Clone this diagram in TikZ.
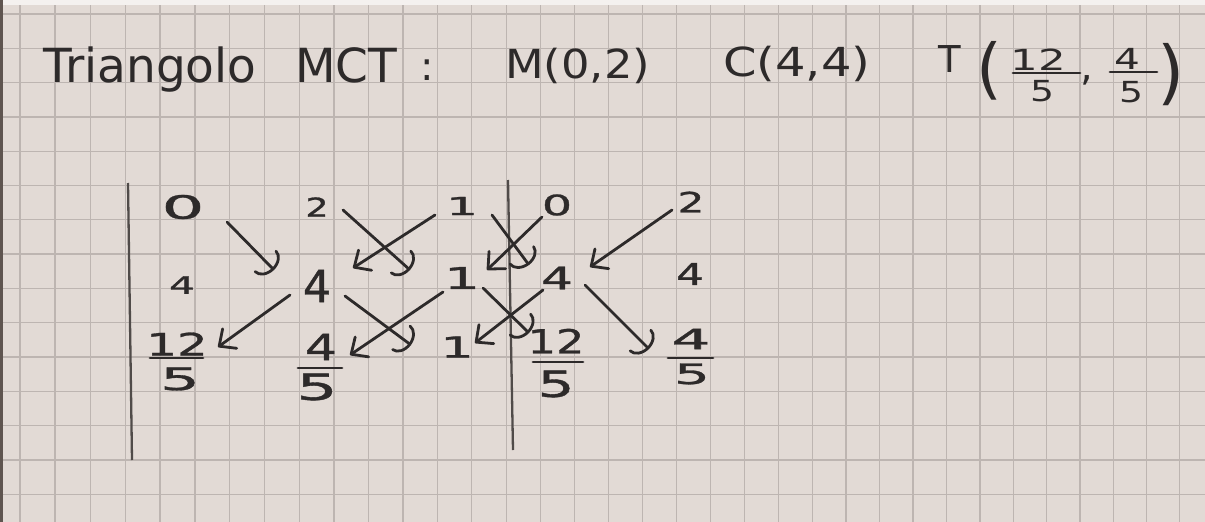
\documentclass[tikz,border=0pt]{standalone}
\usepackage{fontspec}
\setmainfont{DejaVu Sans}
\newfontfamily\hwfont[FakeBold=1]{DejaVu Sans}
\usepackage{graphicx}
\usetikzlibrary{arrows.meta,calc}
\definecolor{paper}{RGB}{226,218,213}
\definecolor{papertop}{RGB}{244,241,239}
\definecolor{gridc}{RGB}{189,181,177}
\definecolor{ink}{RGB}{45,42,42}
\definecolor{penline}{RGB}{80,75,73}
\definecolor{edgec}{RGB}{95,85,80}
\newcommand\hsx[2]{\scalebox{#1}[1]{#2}}
\begin{document}
\begin{tikzpicture}[x=1pt,y=-1pt,
  fs/.style={font=\hwfont\fontsize{#1}{#1}\selectfont},
  tfs/.style={font=\fontsize{#1}{#1}\selectfont},
  dg/.style={inner sep=0pt, text=ink},
  ttl/.style={inner sep=0pt, text=ink, anchor=base west},
  arr/.style={draw=ink, line width=2.8pt, line cap=round},
  dl/.style={arr, -{Straight Barb[length=13pt,width=24pt,round]}},
  dr/.style={arr, -{Arc Barb[length=12pt,width=32pt,round]}},
  fbar/.style={draw=ink, line width=2.8pt, line cap=round},
  vline/.style={draw=penline, line width=2.3pt}]
% paper and grid
\fill[paper] (0,0) rectangle (1205,522);
\useasboundingbox (0,0) rectangle (1205,522);
\foreach \k in {0,...,34} {
  \pgfmathsetmacro\gx{20+35.16*\k-0.0311*\k*\k}
  \draw[gridc, line width=1.3pt] (\gx,0) -- (\gx,522);
}
\foreach \k in {0,...,14} {
  \pgfmathsetmacro\gy{14+34.3*\k}
  \draw[gridc, line width=1.3pt] (0,\gy) -- (1205,\gy);
}
\fill[papertop] (0,0) rectangle (1205,5);
\fill[edgec] (0,0) rectangle (3,522);

% title
\node[ttl, tfs=47] (tri) at (43,82) {Triangolo};
\node[ttl, tfs=47] (mct) at (295,82) {MCT};
\node[ttl, tfs=40] (colon) at (420,80) {:};
\node[ttl, tfs=40] (pm) at (505,78) {\hsx{1.12}{M(0,2)}};
\node[ttl, tfs=40] (pc) at (723,76) {\hsx{1.2}{C(4,4)}};
\node[ttl, tfs=37] (pt) at (938,72) {T};
\node[ttl, tfs=66] (lp) at (976,91) {(};
\node[dg, tfs=29] (tn1) at (1038,60) {\hsx{1.5}{12}};
\node[dg, tfs=29] (td1) at (1042,91) {\hsx{1.3}{5}};
\node[ttl, tfs=40] (tcm) at (1080,80) {,};
\node[dg, tfs=29] (tn2) at (1127,59) {\hsx{1.4}{4}};
\node[dg, tfs=29] (td2) at (1131,92) {\hsx{1.3}{5}};
\node[ttl, tfs=70] (rp) at (1157,96) {)};
\draw[fbar] (1013,73) -- (1080,73);
\draw[fbar] (1110,72) -- (1157,72);

% separator lines
\draw[vline] (128,183) -- (132,460);
\draw[vline] (508,180) -- (513,450);

% column 1
\node[dg, fs=32] (n11) at (183,207) {\hsx{2.1}{0}};
\node[dg, fs=24] (n12) at (182,285) {\hsx{1.7}{4}};
\node[dg, fs=31] (n13n) at (177,344) {\hsx{1.55}{12}};
\node[dg, fs=31] (n13d) at (180,379) {\hsx{2}{5}};
\draw[fbar] (150,358) -- (203,358);
% column 2
\node[dg, fs=26] (n21) at (317,207) {\hsx{1.4}{2}};
\node[dg, fs=44] (n22) at (317,286) {4};
\node[dg, fs=36] (n23n) at (321,347) {\hsx{1.4}{4}};
\node[dg, fs=36] (n23d) at (317,387) {\hsx{1.8}{5}};
\draw[fbar] (298,368) -- (342,368);
% column 3
\node[dg, fs=25] (n31) at (462,206) {\hsx{2}{1}};
\node[dg, fs=30] (n32) at (462,278) {\hsx{1.9}{1}};
\node[dg, fs=29] (n33) at (457,347) {\hsx{1.8}{1}};
% column 4
\node[dg, fs=28] (n41) at (557,205) {\hsx{1.7}{0}};
\node[dg, fs=31] (n42) at (557,278) {\hsx{1.6}{4}};
\node[dg, fs=33] (n43n) at (556,341) {\hsx{1.35}{12}};
\node[dg, fs=36] (n43d) at (556,384) {\hsx{1.6}{5}};
\draw[fbar] (533,362) -- (583,362);
% column 5
\node[dg, fs=28] (n51) at (691,202) {\hsx{1.5}{2}};
\node[dg, fs=30] (n52) at (690,274) {\hsx{1.45}{4}};
\node[dg, fs=28] (n53n) at (691,339) {\hsx{2.2}{4}};
\node[dg, fs=28] (n53d) at (692,374) {\hsx{2}{5}};
\draw[fbar] (668,358) -- (713,358);

% arrows
\draw[dr] ($(n11)+(44,15)$) -- ($(n22)+(-43,-16)$);
\draw[dr] ($(n21)+(26,3)$) -- ($(n32)+(-52,-8)$);
\draw[dl] ($(n31)+(-27,9)$) -- ($(n22)+(36,-18)$);
\draw[dl] ($(n22)+(-27,9)$) -- ($(n13n)+(41,3)$);
\draw[dr] ($(n22)+(28,10)$) -- ($(n33)+(-46,-2)$);
\draw[dl] ($(n32)+(-19,14)$) -- ($(n23n)+(29,8)$);
\draw[dr] ($(n31)+(30,9)$) -- ($(n42)+(-28,-13)$);
\draw[dl] ($(n41)+(-15,12)$) -- ($(n32)+(25,-8)$);
\draw[dr] ($(n32)+(21,10)$) -- ($(n43n)+(-27,-8)$);
\draw[dl] ($(n42)+(-14,12)$) -- ($(n33)+(18,-4)$);
\draw[dl] ($(n51)+(-19,8)$) -- ($(n42)+(33,-11)$);
\draw[dr] ($(n42)+(28,7)$) -- ($(n53n)+(-42,10)$);
\end{tikzpicture}
\end{document}
